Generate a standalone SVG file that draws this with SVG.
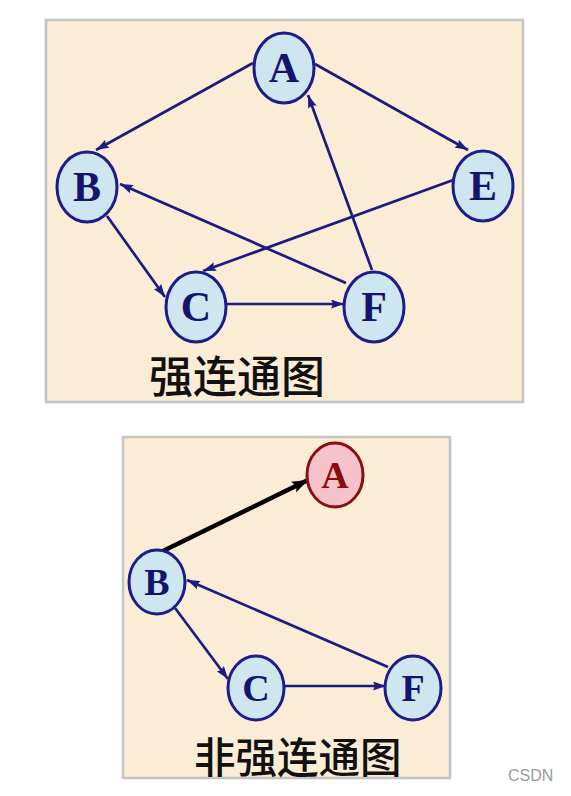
<svg xmlns="http://www.w3.org/2000/svg" width="571" height="796" viewBox="0 0 571 796">
<style>
.panel{fill:#fbecd6;stroke:#c4c4c4;stroke-width:2.5}
.node ellipse{fill:#cde6ef;stroke:#1c1c8a;stroke-width:3}
.node text{font-family:"Liberation Serif",serif;font-weight:bold;font-size:42px;fill:#14146e;text-anchor:middle}
.small text{font-size:38px}
.red ellipse{fill:#f6c3cc;stroke:#8a1010}
.red text{fill:#8a0c0c}
.edge{stroke:#1c1c80;stroke-width:2.7;fill:none;marker-end:url(#ah)}
.black{stroke:#000;stroke-width:4.5;marker-end:url(#ahb)}
.cap{font-family:"Noto Sans CJK SC",sans-serif;font-weight:500;fill:#111}
</style>
<defs>
<marker id="ah" markerUnits="userSpaceOnUse" markerWidth="13" markerHeight="9" refX="13" refY="4.5" orient="auto">
<path d="M0,0 L13,4.5 L0,9 L2,4.5 z" fill="#1c1c80"/>
</marker>
<marker id="ahb" markerUnits="userSpaceOnUse" markerWidth="16" markerHeight="12" refX="16" refY="6" orient="auto">
<path d="M0,0 L16,6 L0,12 L3,6 z" fill="#000"/>
</marker>
</defs>
<rect width="571" height="796" fill="#fff"/>
<rect class="panel" x="46" y="20" width="477" height="382"/>
<rect class="panel" x="123" y="437" width="327" height="341"/>
<g id="connectors">
<line class="edge" x1="253" y1="63" x2="96" y2="150"/>
<line class="edge" x1="315" y1="64" x2="468" y2="150"/>
<line class="edge" x1="372" y1="270" x2="308" y2="95"/>
<line class="edge" x1="456" y1="179" x2="203" y2="271"/>
<line class="edge" x1="346" y1="283" x2="120" y2="184"/>
<line class="edge" x1="107" y1="216" x2="165" y2="297"/>
<line class="edge" x1="226" y1="304" x2="344" y2="304"/>
<line class="edge black" x1="163" y1="551" x2="308" y2="480"/>
<line class="edge" x1="388" y1="667" x2="187" y2="580"/>
<line class="edge" x1="175" y1="608" x2="228" y2="679"/>
<line class="edge" x1="283" y1="686" x2="386" y2="686"/>
</g>
<g id="A1" class="node"><ellipse cx="284" cy="68" rx="30" ry="35"/><text x="284" y="82">A</text></g>
<g id="B1" class="node"><ellipse cx="87" cy="187" rx="30" ry="35"/><text x="87" y="201">B</text></g>
<g id="E1" class="node"><ellipse cx="483" cy="186" rx="30" ry="35"/><text x="483" y="200">E</text></g>
<g id="C1" class="node"><ellipse cx="196" cy="307" rx="30" ry="35"/><text x="196" y="321">C</text></g>
<g id="F1" class="node"><ellipse cx="374" cy="307" rx="30" ry="35"/><text x="374" y="321">F</text></g>
<text class="cap" x="149" y="393" font-size="44">强连通图</text>
<g id="A2" class="node small red"><ellipse cx="335" cy="475" rx="28" ry="32"/><text x="335" y="488">A</text></g>
<g id="B2" class="node small"><ellipse cx="157" cy="582" rx="28" ry="32"/><text x="157" y="595">B</text></g>
<g id="C2" class="node small"><ellipse cx="256" cy="688" rx="28" ry="32"/><text x="256" y="701">C</text></g>
<g id="F2" class="node small"><ellipse cx="413" cy="688" rx="28" ry="32"/><text x="413" y="701">F</text></g>
<text class="cap" x="194" y="773" font-size="41.5">非强连通图</text>
<text x="508" y="781" font-family="Liberation Sans,sans-serif" font-size="16" fill="#9a9a9a">CSDN</text>
</svg>
